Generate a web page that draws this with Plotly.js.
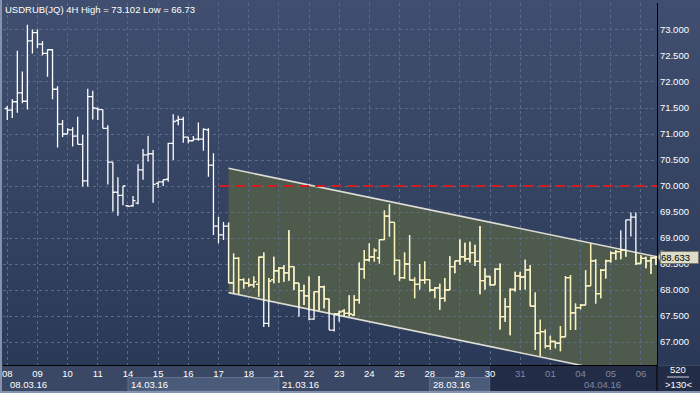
<!DOCTYPE html>
<html><head><meta charset="utf-8">
<script src="https://cdn.plot.ly/plotly-3.0.1.min.js"></script>
<style>
html,body{margin:0;padding:0;background:#3a4866;}
#chart{width:700px;height:393px;background:linear-gradient(180deg,#404f6f 0px,#2b3958 365px,#3a4866 365px,#3a4866 393px);}
</style></head><body><div id="chart"></div>
<script>
// ---- data ----
const titleText = 'USDRUB(JQ) 4H High = 73.102 Low = 66.73';
const dayLabels = ['08','09','10','11','14','15','16','17','18','21','22','23','24','25','28','29','30','31','01','04','05','06'];
const weekLabels = ['08.03.16','14.03.16','21.03.16','28.03.16','04.04.16'];
const weekStartDay = [0,4,9,14,19];
const barsPerDay = 6;
const open  = [71.49,71.46,71.62,71.79,71.63,72.79,72.95,72.73,72.55,72.62,71.86,71.19,71.00,71.08,70.96,70.80,70.10,71.72,71.49,71.47,
71.11,70.46,69.88,69.82,69.62,69.62,69.67,70.31,70.60,70.62,70.05,70.08,70.13,70.82,71.26,71.28,70.94,70.87,70.90,70.90,
71.08,70.40,69.23,69.06,69.23,68.14,68.61,68.20,68.13,68.10,68.11,68.63,67.36,68.20,68.37,68.42,68.33,68.45,68.13,67.99,
67.89,67.44,67.97,68.06,67.83,67.23,67.54,67.60,67.55,67.52,67.81,68.40,68.58,68.64,68.62,68.97,69.42,69.30,68.57,68.24,
68.50,68.19,68.11,68.19,68.20,68.00,68.04,67.84,68.00,68.45,68.56,68.64,68.60,68.72,68.55,68.18,68.26,68.10,68.40,67.49,
67.68,68.01,68.27,68.25,68.39,67.69,67.17,67.20,66.92,67.01,66.98,67.10,68.24,67.56,67.66,67.71,68.08,68.56,67.93,68.38,
68.56,68.71,68.74,68.77,69.35,69.40,68.51,68.61,68.56,68.62];
const high  = [71.54,71.67,72.60,72.20,73.102,73.01,73.01,72.79,72.63,72.63,71.92,71.27,71.11,71.13,71.33,70.98,71.87,71.83,71.51,71.47,
71.17,70.46,70.17,70.00,69.63,69.81,70.42,70.71,70.96,70.69,70.08,70.12,70.83,71.38,71.35,71.33,70.94,70.96,71.22,71.11,
71.11,70.63,69.41,69.31,69.30,68.70,68.63,68.22,68.22,68.26,68.64,68.72,68.23,68.64,68.44,68.48,69.15,68.45,68.13,68.10,
68.26,67.97,68.27,68.08,67.83,67.54,67.60,67.63,67.90,67.90,68.53,68.77,68.90,68.80,68.97,69.53,69.65,69.30,68.58,68.72,
69.06,68.24,68.50,68.55,68.20,68.05,68.12,68.23,68.65,68.56,68.97,68.91,68.93,68.87,69.23,68.42,68.27,68.42,68.51,67.84,
68.03,68.35,68.35,68.58,68.48,67.95,67.43,67.24,67.12,67.01,67.31,68.27,68.29,67.74,67.73,68.38,68.90,68.59,68.40,68.58,
68.74,68.77,69.15,69.35,69.49,69.49,68.67,68.64,68.64,68.66];
const low   = [71.27,71.31,71.41,71.59,71.47,72.55,72.65,72.51,72.10,71.67,70.74,70.94,71.00,70.76,70.80,69.99,69.99,71.28,71.27,71.11,
70.03,69.51,69.43,69.63,69.60,69.60,69.65,70.12,70.47,69.68,69.96,70.00,70.08,70.50,71.17,70.83,70.82,70.87,70.87,70.68,
70.18,69.06,68.90,68.96,68.13,67.94,67.92,68.03,68.06,68.05,67.87,67.29,67.29,68.13,68.14,68.16,68.18,68.00,67.49,67.71,
67.42,67.43,67.60,67.65,67.23,67.20,67.39,67.49,67.49,67.50,67.74,68.22,68.55,68.55,68.51,68.96,69.03,68.29,68.18,68.21,
68.19,67.84,68.01,68.12,67.97,67.84,67.62,67.78,68.00,68.32,68.48,68.55,68.53,68.46,67.92,68.01,68.08,68.10,67.24,67.39,
67.13,67.97,68.00,68.01,67.69,66.85,66.73,66.88,66.85,66.88,66.82,67.10,67.23,67.23,67.63,67.71,68.08,67.74,67.84,68.22,
68.53,68.58,68.59,68.64,69.03,68.48,68.51,68.42,68.31,68.48];
const close = [71.46,71.62,71.79,71.63,72.79,72.95,72.73,72.55,72.62,71.86,71.19,71.00,71.08,70.96,70.80,70.10,71.72,71.50,71.47,71.11,
70.46,69.88,69.82,70.00,69.61,69.72,70.31,70.60,70.62,70.03,70.08,70.12,70.82,71.24,71.28,70.94,70.87,70.90,70.90,71.09,
70.40,69.23,69.06,69.23,68.14,68.61,68.20,68.13,68.10,68.16,68.63,67.36,68.17,68.37,68.42,68.33,68.45,68.13,67.99,67.89,
67.44,67.97,68.06,67.83,67.23,67.54,67.58,67.55,67.54,67.81,68.40,68.58,68.64,68.76,68.97,69.42,69.30,68.57,68.24,68.50,
68.19,68.11,68.19,68.20,68.00,68.04,67.84,68.00,68.45,68.56,68.64,68.60,68.72,68.55,68.18,68.26,68.10,68.40,67.49,67.68,
68.01,68.27,68.25,68.39,67.69,67.17,67.20,66.92,67.01,66.98,67.10,68.24,67.56,67.66,67.71,68.08,68.56,67.93,68.38,68.56,
68.71,68.74,68.77,69.35,69.40,68.51,68.61,68.56,68.62,68.633];
const channelBars  = [44, 129.2];
const channelUpper = [70.34, 68.64];
const channelLower = [67.95, 66.25];
const levelPrice = 70.0;
const levelStartBar = 42.1;
const lastPrice = 68.633;
const barCountText = '520';
const visibleBarsText = '>130<';
const priceTicks = [67,67.5,68,68.5,69,69.5,70,70.5,71,71.5,72,72.5,73];
const shadedFromDay = 16;   // day '30'

// ---- derived ----
const idx = open.map((_, i) => i);
const chanStart = channelBars[0];
const inIdx = idx.filter(i => i >= chanStart);
const dayTickVals = dayLabels.map((_, k) => k * barsPerDay);
const dimColor = '#7f8ba3';
const dayTickText = dayLabels.map((t, k) => k > shadedFromDay ? `<span style="color:${dimColor}">${t}</span>` : t);

// layout geometry (pixels)
const W = 700, H = 393, mL = 3, mR = 43, mT = 3, mB = 28;
const plotW = W - mL - mR, plotH = H - mT - mB;
const xr = [-0.85, 129.2];
const yr = [66.558, 73.519];
const pxPerPrice = plotH / (yr[1] - yr[0]);
const py = p => -p / plotH;           // pixels below plot -> paper y
const pxX = p => p / plotW;           // pixels -> paper x
const bx = b => (b - xr[0]) / (xr[1] - xr[0]);

const font = 'Liberation Sans, Arial, sans-serif';

const traceWhite = {
  type: 'ohlc', x: idx, open, high, low, close,
  increasing: {line: {color: '#ffffff', width: 1.3}},
  decreasing: {line: {color: '#ffffff', width: 1.3}},
  tickwidth: 0.5, hoverinfo: 'skip', showlegend: false
};
const traceCream = {
  type: 'ohlc', x: inIdx,
  open: inIdx.map(i => open[i]), high: inIdx.map(i => high[i]),
  low: inIdx.map(i => low[i]), close: inIdx.map(i => close[i]),
  increasing: {line: {color: '#fbf2b8', width: 1.3}},
  decreasing: {line: {color: '#fbf2b8', width: 1.3}},
  tickwidth: 0.5, hoverinfo: 'skip', showlegend: false
};

const halfBox = 6.5 / pxPerPrice;
const shapes = [
  // channel fill
  {type: 'path', xref: 'x', yref: 'y', layer: 'below',
   path: `M ${channelBars[0]} ${channelUpper[0]} L ${channelBars[1]} ${channelUpper[1]} L ${channelBars[1]} ${channelLower[1]} L ${channelBars[0]} ${channelLower[0]} Z`,
   fillcolor: '#4e5a4b', line: {width: 0}},
  // channel lines
  {type: 'line', xref: 'x', yref: 'y', layer: 'between', x0: channelBars[0], x1: channelBars[1], y0: channelUpper[0], y1: channelUpper[1], line: {color: '#dcdcd4', width: 1.6}},
  {type: 'line', xref: 'x', yref: 'y', layer: 'between', x0: channelBars[0], x1: channelBars[1], y0: channelLower[0], y1: channelLower[1], line: {color: '#dcdcd4', width: 1.6}},
  // level line
  {type: 'line', xref: 'x', yref: 'y', layer: 'between', x0: levelStartBar, x1: xr[1], y0: levelPrice, y1: levelPrice, line: {color: '#cc1f1f', width: 2, dash: '10px,6px'}},
  // week boxes
  {type: 'rect', xref: 'x', yref: 'paper', layer: 'below', x0: dayTickVals[weekStartDay[1]], x1: dayTickVals[weekStartDay[2]], y0: py(12.5), y1: py(26), fillcolor: '#4a5a79', line: {color: '#5f6f90', width: 1}},
  {type: 'rect', xref: 'x', yref: 'paper', layer: 'below', x0: dayTickVals[weekStartDay[3]], x1: dayTickVals[shadedFromDay], y0: py(12.5), y1: py(26), fillcolor: '#4a5a79', line: {color: '#5f6f90', width: 1}},
  // shaded overlay on the axis strip
  {type: 'rect', xref: 'paper', yref: 'paper', layer: 'below', x0: bx(dayTickVals[shadedFromDay]), x1: 1 + pxX(mR), y0: py(1), y1: py(mB), fillcolor: 'rgba(14,22,44,0.55)', line: {width: 0}},
  // right-edge divider in axis strip
  {type: 'line', xref: 'paper', yref: 'paper', layer: 'above', x0: 1, x1: 1, y0: 0, y1: py(mB), line: {color: '#000', width: 1}},
  // price label pointer
  {type: 'path', xref: 'paper', yref: 'y', layer: 'above',
   path: `M ${1 + pxX(1)} ${lastPrice} L ${1 + pxX(4)} ${lastPrice + halfBox} L ${1 + pxX(6)} ${lastPrice + halfBox} L ${1 + pxX(6)} ${lastPrice - halfBox} L ${1 + pxX(4)} ${lastPrice - halfBox} Z`,
   fillcolor: '#dddcc8', line: {color: '#7a7a70', width: 1}},
  // underline between bar count texts
  {type: 'line', xref: 'paper', yref: 'paper', layer: 'above', x0: 1 + pxX(10), x1: 1 + pxX(32), y0: py(12), y1: py(12), line: {color: '#c8cede', width: 1}},
  // outer light border (left & bottom)
  {type: 'line', xref: 'paper', yref: 'paper', layer: 'above', x0: -pxX(2), x1: -pxX(2), y0: 1 + 3 / plotH, y1: py(mB), line: {color: '#8592ab', width: 2}},
  {type: 'line', xref: 'paper', yref: 'paper', layer: 'above', x0: -pxX(mL), x1: 1 + pxX(mR), y0: py(mB - 1), y1: py(mB - 1), line: {color: '#8592ab', width: 2}}
];

const annotations = [
  {text: titleText, xref: 'paper', yref: 'paper', x: 0, y: 1, xanchor: 'left', yanchor: 'top', xshift: 0, yshift: 1, showarrow: false, font: {family: font, size: 9.5, color: '#ffffff'}},
  {text: lastPrice.toFixed(3), xref: 'paper', yref: 'y', x: 1 + pxX(3), y: lastPrice, xanchor: 'left', yanchor: 'middle', showarrow: false,
   width: 37, height: 11, align: 'left', bgcolor: '#dddcc8', bordercolor: '#7a7a70', borderwidth: 1, borderpad: 0,
   font: {family: font, size: 9.5, color: '#000000'}},
  {text: barCountText, xref: 'paper', yref: 'paper', x: 1 + pxX(21), y: py(5), xanchor: 'center', yanchor: 'middle', showarrow: false, font: {family: font, size: 9.5, color: '#ffffff'}},
  {text: visibleBarsText, xref: 'paper', yref: 'paper', x: 1 + pxX(21), y: py(19), xanchor: 'center', yanchor: 'middle', showarrow: false, font: {family: font, size: 9.5, color: '#ffffff'}}
];
weekLabels.forEach((t, k) => {
  const b = dayTickVals[weekStartDay[k]];
  annotations.push({text: t, xref: 'x', yref: 'paper', x: b, y: py(19), xanchor: 'left', yanchor: 'middle', xshift: 1, showarrow: false,
    font: {family: font, size: 9.5, color: weekStartDay[k] >= shadedFromDay ? dimColor : '#ffffff'}});
});

const layout = {
  width: W, height: H, margin: {l: mL, r: mR, t: mT, b: mB, pad: 0},
  paper_bgcolor: 'rgba(0,0,0,0)', plot_bgcolor: 'rgba(0,0,0,0)',
  showlegend: false, dragmode: false, hovermode: false,
  font: {family: font, size: 9.5, color: '#ffffff'},
  xaxis: {range: xr, rangeslider: {visible: false}, tickmode: 'array', tickvals: dayTickVals, ticktext: dayTickText,
    showgrid: true, gridcolor: '#5a6a8a', griddash: '3px,3px', gridwidth: 1, zeroline: false,
    showline: true, linecolor: '#000000', linewidth: 1, ticks: '', ticklen: 0,
    tickfont: {family: font, size: 9.5, color: '#ffffff'}, fixedrange: true},
  yaxis: {range: yr, side: 'right', tickmode: 'array', tickvals: priceTicks, ticktext: priceTicks.map(v => v.toFixed(3)),
    showgrid: true, gridcolor: '#5a6a8a', griddash: '3px,3px', gridwidth: 1, zeroline: false,
    showline: true, linecolor: '#000000', linewidth: 1, ticks: '', ticklen: 0,
    tickfont: {family: font, size: 9.5, color: '#ffffff'}, fixedrange: true},
  shapes, annotations
};

const gd = document.getElementById('chart');
Plotly.newPlot(gd, [traceWhite, traceCream], layout, {staticPlot: true, displayModeBar: false}).then(() => {
  try {
    const xa = gd._fullLayout.xaxis, ya = gd._fullLayout.yaxis;
    const poly = [[channelBars[0], channelUpper[0]], [channelBars[1], channelUpper[1]], [channelBars[1], channelLower[1]], [channelBars[0], channelLower[0]]]
      .map(([x, y]) => xa.l2p(x).toFixed(2) + ',' + ya.l2p(y).toFixed(2)).join(' ');
    const ns = 'http://www.w3.org/2000/svg';
    const svg = gd.querySelector('svg.main-svg');
    let defs = svg.querySelector('defs');
    if (!defs) { defs = document.createElementNS(ns, 'defs'); svg.insertBefore(defs, svg.firstChild); }
    const cp = document.createElementNS(ns, 'clipPath');
    cp.setAttribute('id', 'chanclip');
    cp.setAttribute('clipPathUnits', 'userSpaceOnUse');
    const pg = document.createElementNS(ns, 'polygon');
    pg.setAttribute('points', poly);
    cp.appendChild(pg); defs.appendChild(cp);
    const groups = gd.querySelectorAll('g.trace.ohlc');
    if (groups.length >= 2) groups[1].setAttribute('clip-path', 'url(#chanclip)');
  } catch (e) { console.error(e); }
});
</script></body></html>
